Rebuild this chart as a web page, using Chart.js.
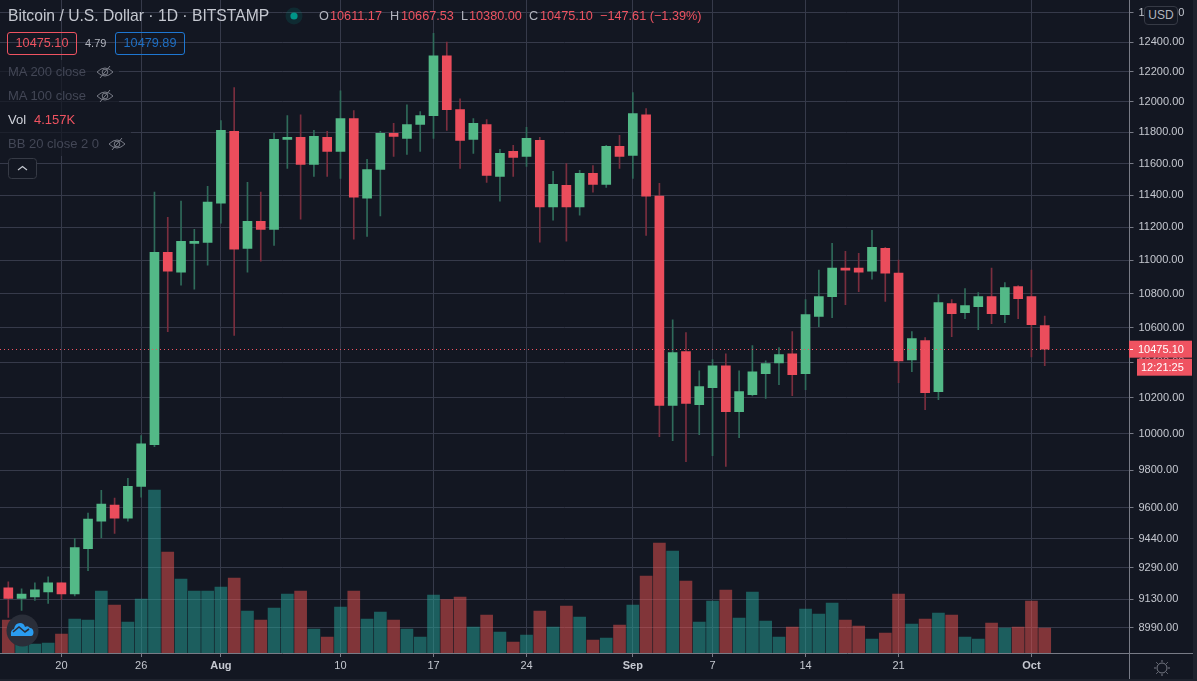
<!DOCTYPE html>
<html>
<head>
<meta charset="utf-8">
<title>Bitcoin / U.S. Dollar 1D BITSTAMP</title>
<script src="https://cdn.jsdelivr.net/npm/chart.js@4"></script>
<style>
html, body { margin: 0; padding: 0; background: #131722; overflow: hidden; }
#wrap { position: relative; width: 1197px; height: 681px; font-family: "Liberation Sans", Arial, sans-serif; }
canvas { position: absolute; left: 0; top: 0; }
.t { position: absolute; white-space: nowrap; line-height: 16px; }
.row { position: absolute; left: 0; height: 24px; background: rgba(19,23,34,.72); }
.box { position: absolute; height: 21px; line-height: 21px; border: 1px solid; border-radius: 3px; text-align: center; font-size: 12.7px; }
.red { color: #ef5361; }
.dim { color: #434756; font-size: 13px; }
.ohlc { font-size: 12.7px; top: 8px; }
.lab { color: #b2b5be; }
.strip { position: absolute; background: #1e222d; }
.axis { position: absolute; background: #787b86; }
</style>
</head>
<body>
<div id="wrap">
  <canvas id="chart" width="1197" height="681"></canvas>

  <div class="axis" style="left:1130px;top:653px;width:63px;height:1px"></div>
  <div class="axis" style="left:1129px;top:653px;width:1px;height:26px"></div>
  <div class="strip" style="left:1193px;top:0;width:4px;height:681px"></div>
  <div class="strip" style="left:0;top:679px;width:1197px;height:2px"></div>

  <div class="row" style="top:60px;width:119px"></div>
  <div class="row" style="top:84px;width:119px"></div>
  <div class="row" style="top:108px;width:82px"></div>
  <div class="row" style="top:132px;width:131px"></div>

  <div class="t" style="left:8px;top:8px;font-size:15.7px;color:#c5c8d0">Bitcoin / U.S. Dollar &middot; 1D &middot; BITSTAMP</div>
  <svg style="position:absolute;left:285px;top:7px" width="18" height="18"><circle cx="9" cy="9" r="8.5" fill="#009688" opacity=".16"/><circle cx="9" cy="9" r="3.6" fill="#009688"/></svg>
  <div class="t ohlc lab" style="left:319px">O</div><div class="t ohlc red" style="left:330px">10611.17</div>
  <div class="t ohlc lab" style="left:390px">H</div><div class="t ohlc red" style="left:401px">10667.53</div>
  <div class="t ohlc lab" style="left:461px">L</div><div class="t ohlc red" style="left:469px">10380.00</div>
  <div class="t ohlc lab" style="left:529px">C</div><div class="t ohlc red" style="left:540px">10475.10</div>
  <div class="t ohlc red" style="left:600px">&minus;147.61 (&minus;1.39%)</div>

  <div class="box red" style="left:7px;top:32px;width:68px;border-color:#ef5361">10475.10</div>
  <div class="t" style="left:85px;top:35px;font-size:11px;color:#b2b5be">4.79</div>
  <div class="box" style="left:115px;top:32px;width:68px;border-color:#1e77d2;color:#1e6fc4">10479.89</div>

  <div class="t dim" style="left:8px;top:64px">MA 200 close</div>
  <div class="t dim" style="left:8px;top:88px">MA 100 close</div>
  <div class="t" style="left:8px;top:112px;font-size:13px;color:#d1d4dc">Vol</div>
  <div class="t red" style="left:34px;top:112px;font-size:13px">4.157K</div>
  <div class="t dim" style="left:8px;top:136px">BB 20 close 2 0</div>
  <svg style="position:absolute;left:96px;top:64px" width="18" height="16" fill="none" stroke="#787b86" stroke-width="1"><path d="M1 8 Q9 0 17 8 Q9 16 1 8Z"/><circle cx="9" cy="8" r="2.8"/><path d="M14 2 L4 14"/></svg>
  <svg style="position:absolute;left:96px;top:88px" width="18" height="16" fill="none" stroke="#787b86" stroke-width="1"><path d="M1 8 Q9 0 17 8 Q9 16 1 8Z"/><circle cx="9" cy="8" r="2.8"/><path d="M14 2 L4 14"/></svg>
  <svg style="position:absolute;left:108px;top:136px" width="18" height="16" fill="none" stroke="#787b86" stroke-width="1"><path d="M1 8 Q9 0 17 8 Q9 16 1 8Z"/><circle cx="9" cy="8" r="2.8"/><path d="M14 2 L4 14"/></svg>
  <svg style="position:absolute;left:8px;top:158px" width="29" height="21"><rect x=".5" y=".5" width="28" height="20" rx="3" fill="#131722" stroke="#363a45"/><path d="M10 12 L14.5 8.5 L19 12" fill="none" stroke="#c5c8d0" stroke-width="1.2"/></svg>

  <svg style="position:absolute;left:6px;top:614px" width="33" height="33"><circle cx="16.5" cy="16.5" r="16" fill="#2a2e39"/><path d="M5 22 Q4 16 8 15 Q9 9 14 9 Q18 9 19 13 Q22 11 24 14 Q27 14 27.500 18 Q27.500 22 25 22Z" fill="#2a9cf0"/><path d="M7 18 L13 13 L19 18 L23 15" fill="none" stroke="#2a2e39" stroke-width="1.6"/></svg>

  <div class="t" style="left:1144px;top:6px;width:32px;height:17px;line-height:17px;text-align:center;font-size:12px;color:#b2b5be;background:#131722;border:1px solid #363a45;border-radius:4px">USD</div>
  <svg style="position:absolute;left:1153px;top:659px" width="18" height="18" fill="none" stroke="#787b86" stroke-width="1"><circle cx="9" cy="9" r="5"/><path d="M9 1V3 M9 15V17 M1 9H3 M15 9H17 M3.300 3.300L4.800 4.800 M13.200 13.200L14.700 14.700 M3.300 14.700L4.800 13.200 M13.200 4.800L14.700 3.300"/></svg>
</div>

<script>
var opens  = [9188,9135,9142,9168,9213,9157,9388,9531,9616,9547,9715,9940,11047,10928,11102,11108,11350,11806,11072,11238,
              11188,11755,11768,11594,11768,11677,11890,11381,11562,11794,11761,11851,11909,12306,11948,11755,11851,11518,11677,11645,
              11748,11326,11462,11326,11537,11468,11710,11652,11915,11394,10156,10461,10161,10256,10380,10122,10217,10335,10397,10449,
              10335,10665,10782,10952,10952,10934,11072,10922,10414,10525,10234,10741,10688,10723,10782,10676,10842,10782,10611.17];
var closes = [9135,9157,9178,9213,9157,9393,9542,9621,9547,9715,9945,11047,10934,11115,11115,11357,11813,11066,11238,11188,
              11755,11768,11594,11774,11677,11890,11388,11562,11794,11774,11851,11909,12306,11948,11748,11858,11524,11665,11639,11761,
              11326,11468,11326,11537,11468,11710,11645,11922,11394,10156,10455,10167,10262,10380,10122,10234,10346,10392,10444,10329,
              10676,10782,10952,10940,10928,11078,10922,10408,10536,10228,10747,10682,10729,10782,10682,10836,10770,10617,10475.10];
var highs  = [9219,9183,9213,9244,9215,9440,9573,9694,9653,9758,9989,11419,11262,11363,11188,11456,11877,12094,11480,11419,
              11794,11909,11915,11813,11806,12073,11942,11626,11806,11858,11980,11935,12460,12400,12020,11890,11883,11690,11716,11832,
              11768,11550,11600,11556,11587,11716,11781,12060,11955,11474,10646,10571,10352,10415,10449,10352,10496,10409,10484,10577,
              10765,10940,11102,11054,11042,11182,11078,11000,10577,10542,10794,10765,10830,10806,10952,10866,10848,10940,10667.53];
var lows   = [9040,9075,9125,9110,9130,9147,9275,9445,9467,9531,9657,9929,10577,10850,10826,10970,11226,10554,10928,10994,
              11090,11568,11250,11518,11518,11505,11127,11145,11270,11645,11658,11677,11761,11813,11568,11665,11480,11363,11518,11581,
              11109,11245,11115,11276,11419,11449,11568,11505,11151,9984,9962,9847,9995,9880,9822,9978,10210,10195,10273,10211,
              10245,10606,10658,10735,10812,10886,10753,10284,10346,10133,10189,10548,10652,10588,10623,10629,10652,10431,10380];
var volumes = [5490,1500,1500,1663,3160,5650,5490,10310,7980,5155,8980,27100,16800,12300,10310,10310,10980,12470,6985,5490,
               7480,9810,10310,3990,2660,7650,10310,5650,6820,5490,3990,2660,9645,8870,9310,4320,6320,3490,1830,2990,
               6985,4320,7815,5990,2160,2490,4655,7980,12800,18290,16960,11970,5155,8650,10480,5820,10145,5320,2660,4320,
               7315,6485,8315,5490,4490,2330,3325,9810,4820,5650,6650,6320,2660,2330,4990,4157,4320,8650,4157];
var volumeUp = [0,1,1,1,0,1,1,1,0,1,1,1,0,1,1,1,1,0,1,0,
                1,1,0,1,0,1,0,1,1,0,1,1,1,0,0,1,0,1,0,1,
                0,1,0,1,0,1,0,1,0,0,1,0,1,1,0,1,1,1,1,0,
                1,1,1,0,0,1,0,0,1,0,1,0,1,1,0,1,0,0,0];

var dateTicks  = [4,10,16,25,32,39,47,53,60,67,77];
var dateLabels = ['20','26','Aug','10','17','24','Sep','7','14','21','Oct'];
var priceTicks = [12600,12400,12200,12000,11800,11600,11400,11200,11000,10800,10600,10400,10200,10000,9800,9600,9440,9290,9130,8990];
var lastClose = 10475.10;

var GREEN = '#53b987', RED = '#eb4d5c';
var GREEN_WICK = '#2f6b5a', RED_WICK = '#7a2e3e';
var VOL_GREEN = 'rgba(38,166,154,.5)', VOL_RED = 'rgba(239,83,80,.5)';
var GRID = '#363a4a', AXIS = '#787b86', TICK_TEXT = '#c5c8d0';

var days = opens.map(function(o, i) { return i; });
var isUp = days.map(function(i) { return closes[i] >= opens[i]; });

// dotted last price line and the two tags on the price scale
var lastPrice = {
    id: 'lastPrice',
    afterDraw: function(chart) {
        var c = chart.ctx, y = chart.scales.y.getPixelForValue(lastClose);
        c.save();
        c.strokeStyle = '#ef5361';
        c.setLineDash([1, 3]);
        c.beginPath();
        c.moveTo(0, Math.round(y) + .5);
        c.lineTo(chart.chartArea.right, Math.round(y) + .5);
        c.stroke();
        c.setLineDash([]);
        c.fillStyle = '#ef5361';
        c.fillRect(1129, y - 8.5, 63, 17);
        c.fillRect(1137, y + 9.5, 55, 17);
        c.fillStyle = '#fff';
        c.fillRect(1130, Math.round(y), 3, 1);
        c.font = '11px "Liberation Sans"';
        c.textBaseline = 'middle';
        c.textAlign = 'left';
        c.fillText('10475.10', 1138, y + .5);
        c.fillText('12:21:25', 1141, y + 18.5);
        c.restore();
    }
};

new Chart(document.getElementById('chart'), {
    type: 'bar',
    data: {
        datasets: [
            {
                yAxisID: 'vol', order: 3, grouped: false, barThickness: 12,
                data: days.map(function(i) { return {x: i, y: volumes[i]}; }),
                backgroundColor: days.map(function(i) { return volumeUp[i] ? VOL_GREEN : VOL_RED; })
            },
            {
                yAxisID: 'y', order: 2, grouped: false, barThickness: 1,
                data: days.map(function(i) { return {x: i, y: [lows[i], highs[i]]}; }),
                backgroundColor: days.map(function(i) { return isUp[i] ? GREEN_WICK : RED_WICK; })
            },
            {
                yAxisID: 'y', order: 1, grouped: false, barThickness: 9,
                data: days.map(function(i) { return {x: i, y: [opens[i], closes[i]]}; }),
                backgroundColor: days.map(function(i) { return isUp[i] ? GREEN : RED; })
            }
        ]
    },
    options: {
        responsive: false,
        animation: false,
        layout: {padding: 0, autoPadding: false},
        plugins: {legend: {display: false}, tooltip: {enabled: false}},
        scales: {
            x: {
                type: 'linear',
                offset: false,
                min: -0.6247,
                max: 84.38,
                afterBuildTicks: function(axis) {
                    axis.ticks = dateTicks.map(function(v) { return {value: v}; });
                },
                afterFit: function(axis) {
                    axis.height = 28;
                    axis.paddingLeft = axis.paddingRight = 0;
                },
                grid: {offset: false, color: GRID, tickColor: AXIS, tickLength: 4},
                border: {color: AXIS},
                ticks: {
                    autoSkip: false,
                    maxRotation: 0,
                    padding: 2,
                    color: TICK_TEXT,
                    font: function(ctx) {
                        var bold = /[A-Z]/.test(dateLabels[ctx.index] || '');
                        return {family: 'Liberation Sans', size: 11, weight: bold ? 'bold' : 'normal'};
                    },
                    callback: function(v) { return dateLabels[dateTicks.indexOf(v)]; }
                }
            },
            y: {
                type: 'logarithmic',
                position: 'right',
                min: 8865,
                max: 12690,
                afterBuildTicks: function(axis) {
                    axis.ticks = priceTicks.map(function(v) { return {value: v}; });
                },
                afterFit: function(axis) {
                    axis.width = 67.5;
                    axis.paddingTop = axis.paddingBottom = 0;
                },
                grid: {color: GRID, tickColor: AXIS, tickLength: 4},
                border: {color: AXIS},
                ticks: {
                    autoSkip: false,
                    padding: 5,
                    color: TICK_TEXT,
                    font: {family: 'Liberation Sans', size: 11},
                    callback: function(v) { return v.toFixed(2); }
                }
            },
            vol: {
                type: 'linear',
                display: false,
                min: 0,
                max: 108600,
                afterFit: function(axis) { axis.paddingTop = axis.paddingBottom = 0; }
            }
        }
    },
    plugins: [lastPrice]
});
</script>
</body>
</html>
